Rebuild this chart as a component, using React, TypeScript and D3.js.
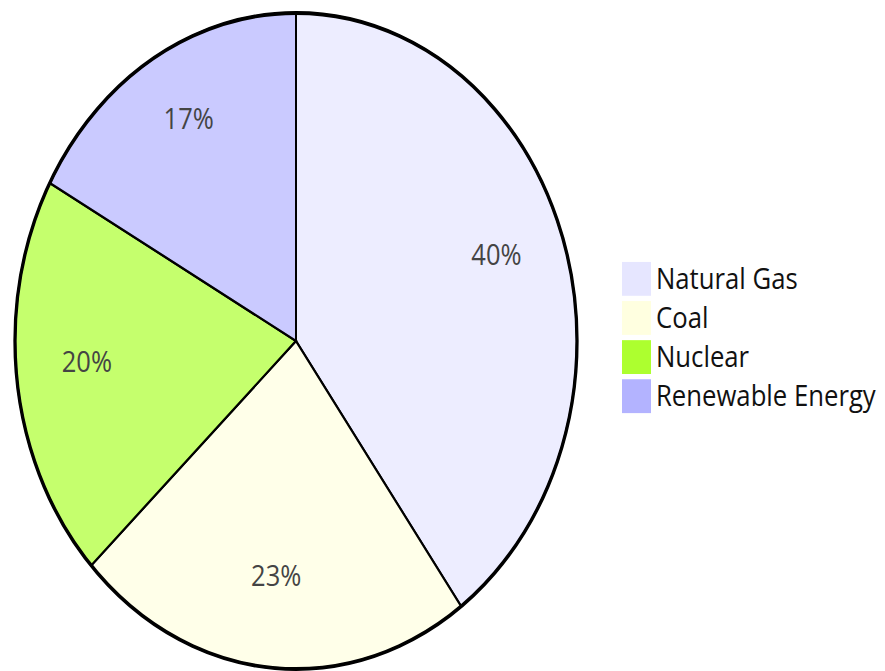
import React from "react";
import * as d3 from "d3";

const categories = ["Natural Gas", "Coal", "Nuclear", "Renewable Energy"];
const values = [40, 23, 20, 17];
const colors = ["#e6e6ff", "#ffffe0", "#adff2f", "#b3b3ff"];

const W = 885;
const H = 671;
const SY = 1.1673; // vertical stretch of the original drawing
const R = 281;
const CX = 296;
const CY = 292.1;

export default function App() {
  const total = d3.sum(values);
  const pie = d3.pie<number>().sort(null).value((d) => d);
  const arcs = pie(values);
  const arc = d3.arc<d3.PieArcDatum<number>>().innerRadius(0).outerRadius(R);
  const labelArc = d3
    .arc<d3.PieArcDatum<number>>()
    .innerRadius(R * 0.75)
    .outerRadius(R * 0.75);

  const legendX = 622;
  const legendY0 = 224.4;
  const legendStep = 33.5;
  const sw = 29;

  return (
    <svg
      width={W}
      height={H}
      style={{ position: "absolute", left: 0, top: 0 }}
      fontFamily="'Open Sans', sans-serif"
    >
      <g transform={`scale(1, ${SY})`}>
        <g transform={`translate(${CX}, ${CY})`}>
          {arcs.map((a, i) => (
            <path
              key={i}
              d={arc(a) || ""}
              fill={colors[i]}
              fillOpacity={0.7}
              stroke="#000"
              strokeWidth={2}
            />
          ))}
          <circle r={R} fill="none" stroke="#000" strokeWidth={3.3} />
          {arcs.map((a, i) => {
            const [x, y] = labelArc.centroid(a);
            return (
              <text
                key={i}
                x={x}
                y={y}
                textAnchor="middle"
                fontSize={25.5}
                fill="#444"
              >
                {Math.round((values[i] / total) * 100)}%
              </text>
            );
          })}
        </g>
        <g>
          {categories.map((c, i) => (
            <g key={c} transform={`translate(${legendX}, ${legendY0 + i * legendStep})`}>
              <rect width={sw} height={sw} fill={colors[i]} />
              <text x={34} y={sw / 2} dy="0.33em" fontSize={25.7} fill="#111">
                {c}
              </text>
            </g>
          ))}
        </g>
      </g>
    </svg>
  );
}
